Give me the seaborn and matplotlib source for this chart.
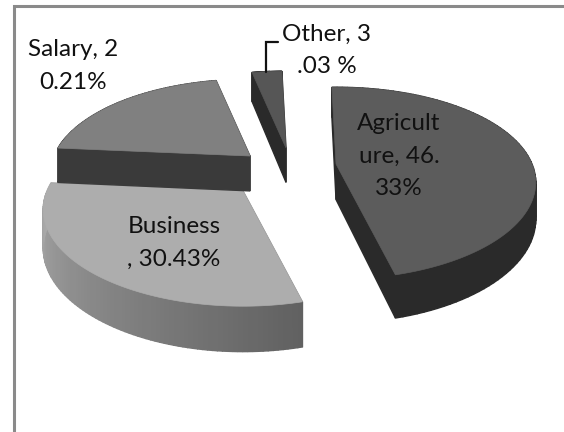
import numpy as np
import matplotlib
matplotlib.use("Agg")
import matplotlib.pyplot as plt
import seaborn as sns

# Income sources and their shares in percent
categories = ["Agriculture", "Business", "Salary", "Other"]
shares = [46.33, 30.43, 20.21, 3.03]
label_lines = ["Agricult\nure, 46.\n33%", "Business\n, 30.43%", "Salary, 2\n0.21%", "Other, 3\n.03 %"]

sns.set_theme(style="white")
plt.rcParams["font.family"] = ["Lato", "DejaVu Sans"]

top_colors = sns.color_palette(["#5c5c5c", "#adadad", "#808080", "#565656"])
side_colors = sns.color_palette(["#2a2a2a", "#8a8a8a", "#3a3a3a", "#2a2a2a"])

# Projection of the tilted disc and the pulled-out wedge centres
SEMI_X, SEMI_Y, PERSPECTIVE = 196.0, 96.0, 0.20
FIRST_ANGLE = -1.5
centres = [(336, 164), (243, 191), (250, 156), (286, 148)]
label_pos = [(399, 156), (174, 243), (73, 66), (327, 50)]
draw_order = [1, 2, 3, 0]


def project(theta, radius, cx, cy):
    u = radius * np.sin(np.radians(theta))
    v = -radius * np.cos(np.radians(theta))
    scale = 1 + PERSPECTIVE * v
    return cx + SEMI_X * u * scale, cy + SEMI_Y * v * scale


def depth(y):
    return 24 + 0.07 * y


edges = FIRST_ANGLE + 3.6 * np.concatenate([[0], np.cumsum(shares)])

fig = plt.figure(figsize=(5.64, 4.32), dpi=100, facecolor="white")
ax = fig.add_axes([0, 0, 1, 1])
ax.set_xlim(0, 564)
ax.set_ylim(432, 0)
ax.axis("off")

for i in draw_order:
    cx, cy = centres[i]
    theta = np.linspace(edges[i], edges[i + 1], 90)
    ax_, ay_ = project(theta, 1.0, cx, cy)
    xs = np.concatenate([[cx], ax_, [cx]])
    ys = np.concatenate([[cy], ay_, [cy]])
    # Extruded side walls, one quad per outline step
    for k in range(len(xs) - 1):
        x0, x1, y0, y1 = xs[k], xs[k + 1], ys[k], ys[k + 1]
        color = side_colors[i]
        if i == 1 and 1 <= k < len(ax_):
            # The business rim lightens away from its front corner
            t = (k - 1) / (len(ax_) - 1)
            level = 0.38 + 0.30 * t
            color = (level, level, level)
        ax.fill([x0, x1, x1, x0], [y0, y1, y1 + depth(y1), y0 + depth(y0)],
                color=color, lw=1.0, zorder=2 + draw_order.index(i))
    ax.fill(xs, ys, color=top_colors[i], lw=0.5, zorder=2.5 + draw_order.index(i))

for text, (x, y) in zip(label_lines, label_pos):
    ax.text(x, y, text, ha="center", va="center", fontsize=17.5, color="#111111",
            linespacing=1.66, zorder=10)

# Leader from the small wedge to its label
ax.plot([266, 266, 278], [72, 42, 42], color="#111111", lw=1.6, zorder=9,
        solid_joinstyle="miter")

# Outer chart frame
ax.plot([14, 14, 564], [432, 6, 6], color="#8a8a8a", lw=2.2, zorder=1,
        solid_joinstyle="miter")

fig.savefig("out.png", dpi=100, facecolor="white")
